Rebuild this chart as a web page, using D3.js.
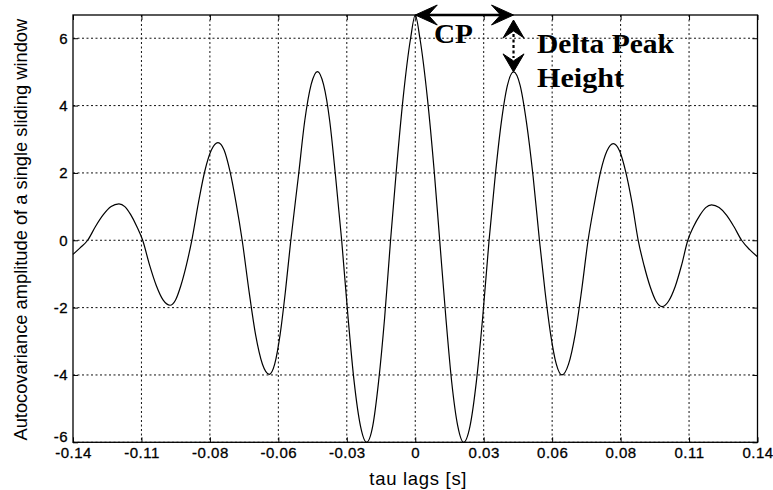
<!DOCTYPE html>
<html>
<head>
<meta charset="utf-8">
<script src="https://cdn.jsdelivr.net/npm/d3@7/dist/d3.min.js"></script>
<style>
  html, body { margin: 0; padding: 0; background: #fff; }
  svg { display: block; }
  .tick text { font-family: "Liberation Sans", Arial, Helvetica, sans-serif; font-size: 15px; fill: #000; letter-spacing: 0.5px; }
</style>
</head>
<body>
<svg id="chart" width="773" height="490"></svg>
<script>
// Autocovariance of one sliding window versus lag (seconds)
const tau = [
  -0.1400, -0.1370, -0.1340,
  -0.1308, -0.1276, -0.1244, -0.1212, -0.1188, -0.1164, -0.1139, -0.1115,
  -0.1087, -0.1059, -0.1031, -0.1003, -0.0981, -0.0959, -0.0936, -0.0914,
  -0.0887, -0.0861, -0.0834, -0.0807, -0.0782, -0.0758, -0.0733, -0.0708,
  -0.0680, -0.0653, -0.0625, -0.0597, -0.0575, -0.0553, -0.0531, -0.0509,
  -0.0478, -0.0452, -0.0426, -0.0400, -0.0375, -0.0350, -0.0326, -0.0301,
  -0.0275, -0.0250, -0.0224, -0.0199, -0.0174, -0.0150, -0.0125, -0.0101,
  -0.0077, -0.0050, -0.0019, 0.0000, 0.0019, 0.0050, 0.0077, 0.0100,
  0.0125, 0.0149, 0.0174, 0.0198, 0.0224, 0.0250, 0.0276, 0.0302,
  0.0327, 0.0352, 0.0377, 0.0402, 0.0429, 0.0455, 0.0482, 0.0508,
  0.0531, 0.0554, 0.0577, 0.0600, 0.0627, 0.0654, 0.0680, 0.0707,
  0.0733, 0.0758, 0.0784, 0.0810, 0.0836, 0.0861, 0.0887, 0.0912,
  0.0936, 0.0961, 0.0985, 0.1010, 0.1036, 0.1063, 0.1089, 0.1115,
  0.1138, 0.1164, 0.1188, 0.1212, 0.1243, 0.1274, 0.1304, 0.1335,
  0.1368, 0.1400
];
const amplitude = [
  -0.42, -0.22, 0.00,
  0.41, 0.76, 1.00, 1.08, 1.00, 0.76, 0.41, 0.00,
  -0.73, -1.35, -1.78, -1.93, -1.78, -1.35, -0.73, 0.00,
  1.11, 2.05, 2.68, 2.90, 2.68, 2.05, 1.11, 0.00,
  -1.51, -2.81, -3.68, -3.98, -3.68, -2.81, -1.51, 0.00,
  1.90, 3.55, 4.62, 5.01, 4.62, 3.55, 1.90, 0.00,
  -2.28, -4.20, -5.52, -6.00, -5.52, -4.20, -2.28, 0.00,
  2.10, 4.20, 6.00, 6.69, 6.00, 4.20, 2.10, 0.00,
  -2.28, -4.20, -5.52, -6.00, -5.52, -4.20, -2.28, 0.00,
  1.90, 3.50, 4.60, 5.00, 4.60, 3.50, 1.90, 0.00,
  -1.52, -2.80, -3.68, -4.00, -3.68, -2.80, -1.52, 0.00,
  1.10, 2.03, 2.65, 2.87, 2.65, 2.03, 1.10, 0.00,
  -0.75, -1.38, -1.81, -1.97, -1.81, -1.38, -0.75, 0.00,
  0.40, 0.74, 0.97, 1.05, 0.97, 0.74, 0.40, 0.00,
  -0.28, -0.49
];

const xTicks = [-0.14, -0.112, -0.084, -0.056, -0.028, 0, 0.028, 0.056, 0.084, 0.112, 0.14];
const xTickLabels = ["-0.14", "-0.11", "-0.08", "-0.06", "-0.03", "0", "0.03", "0.06", "0.08", "0.11", "0.14"];
const yTicks = [-6, -4, -2, 0, 2, 4, 6];
const yTickLabels = ["-6", "-4", "-2", "0", "2", "4", "6"];
const yDomain = [-6, 6.69];

const xLabel = "tau lags [s]";
const yLabel = "Autocovariance amplitude of a single sliding window";

// Annotation anchors: central peak and first side peak
const cpLag = [0, 0.0402];
const peakHeights = [6.69, 5.0];
const cpText = "CP";
const deltaText = ["Delta Peak", "Height"];

// ---- layout ----
const W = 773, H = 490;
const plot = { left: 73, right: 757.5, top: 15, bottom: 442.3 };

const svg = d3.select("#chart");

const x = d3.scaleLinear()
  .domain([xTicks[0], xTicks[xTicks.length - 1]])
  .range([plot.left, plot.right]);
const y = d3.scaleLinear()
  .domain(yDomain)
  .range([plot.bottom, plot.top]);

// dotted grid
const grid = svg.append("g")
  .attr("stroke", "#111")
  .attr("stroke-width", 1)
  .attr("stroke-dasharray", "2,2.5");
grid.selectAll("line.gx")
  .data(xTicks.slice(1, -1))
  .join("line")
  .attr("class", "gx")
  .attr("x1", d => x(d)).attr("x2", d => x(d))
  .attr("y1", plot.top).attr("y2", plot.bottom);
grid.selectAll("line.gy")
  .data(yTicks)
  .join("line")
  .attr("class", "gy")
  .attr("x1", plot.left).attr("x2", plot.right)
  .attr("y1", d => y(d)).attr("y2", d => y(d));

// axes with inward ticks
const fmtX = d => xTickLabels[xTicks.indexOf(d)];
const fmtY = d => yTickLabels[yTicks.indexOf(d)];

svg.append("g")
  .attr("transform", `translate(0,${plot.bottom})`)
  .call(d3.axisBottom(x).tickValues(xTicks).tickFormat(fmtX)
    .tickSizeInner(-5).tickSizeOuter(0).tickPadding(5.5))
  .call(g => g.select(".domain").remove());

svg.append("g")
  .attr("transform", `translate(0,${plot.top})`)
  .call(d3.axisTop(x).tickValues(xTicks).tickFormat("")
    .tickSizeInner(-5).tickSizeOuter(0))
  .call(g => g.select(".domain").remove());

svg.append("g")
  .attr("transform", `translate(${plot.left},0)`)
  .call(d3.axisLeft(y).tickValues(yTicks).tickFormat(fmtY)
    .tickSizeInner(-5).tickSizeOuter(0).tickPadding(5))
  .call(g => g.select(".domain").remove())
  // lift the bottom label so it clears the first x tick label
  .call(g => g.selectAll(".tick text").filter(d => d === yTicks[0]).attr("dy", "-0.05em"));

svg.append("g")
  .attr("transform", `translate(${plot.right},0)`)
  .call(d3.axisRight(y).tickValues(yTicks).tickFormat("")
    .tickSizeInner(-5).tickSizeOuter(0))
  .call(g => g.select(".domain").remove());

svg.selectAll(".tick line").attr("stroke", "#000").attr("stroke-width", 1);
svg.selectAll(".tick text").attr("stroke", "#000").attr("stroke-width", 0.3);

// frame
svg.append("rect")
  .attr("x", plot.left).attr("y", plot.top)
  .attr("width", plot.right - plot.left)
  .attr("height", plot.bottom - plot.top)
  .attr("fill", "none")
  .attr("stroke", "#000")
  .attr("stroke-width", 1.3);

// autocovariance curve
const line = d3.line()
  .x(d => x(d[0]))
  .y(d => y(d[1]))
  .curve(d3.curveMonotoneX);

svg.append("path")
  .datum(d3.zip(tau, amplitude))
  .attr("d", line)
  .attr("fill", "none")
  .attr("stroke", "#000")
  .attr("stroke-width", 1.2)
  .attr("stroke-linejoin", "round");

// axis titles
svg.append("text")
  .attr("x", (plot.left + plot.right) / 2 + 3)
  .attr("y", 485)
  .attr("text-anchor", "middle")
  .attr("font-family", "Liberation Sans, Arial, Helvetica, sans-serif")
  .attr("font-size", 18.5)
  .attr("letter-spacing", 0.7)
  .text(xLabel);

svg.append("text")
  .attr("transform", `translate(27,${(plot.top + plot.bottom) / 2 + 1}) rotate(-90)`)
  .attr("text-anchor", "middle")
  .attr("font-family", "Liberation Sans, Arial, Helvetica, sans-serif")
  .attr("font-size", 18.3)
  .text(yLabel);

// ---- CP / Delta Peak Height annotation ----
function arrowHead(g, tipX, tipY, angle, len, half, notch) {
  const pts = [[0, 0], [-len, -half], [-notch, 0], [-len, half]];
  g.append("path")
    .attr("d", "M" + pts.map(p => p.join(",")).join("L") + "Z")
    .attr("transform", `translate(${tipX},${tipY}) rotate(${angle})`)
    .attr("fill", "#000")
    .attr("stroke", "#000")
    .attr("stroke-width", 1)
    .attr("stroke-linejoin", "miter");
}

const ann = svg.append("g");
const ax0 = x(cpLag[0]), ax1 = x(cpLag[1]);
const ayTop = y(peakHeights[0]);
const aySide = y(peakHeights[1]);

// horizontal double arrow between the two peak lags
ann.append("line")
  .attr("x1", ax0 + 10).attr("x2", ax1 - 10)
  .attr("y1", ayTop).attr("y2", ayTop)
  .attr("stroke", "#000").attr("stroke-width", 2.6);
arrowHead(ann, ax0, ayTop, 180, 22, 10, 13);
arrowHead(ann, ax1, ayTop, 0, 22, 10, 13);

// vertical dashed double arrow between the two peak heights
const vTop = ayTop + 5;
ann.append("line")
  .attr("x1", ax1).attr("x2", ax1)
  .attr("y1", vTop + 14).attr("y2", aySide - 14)
  .attr("stroke", "#000").attr("stroke-width", 2.2)
  .attr("stroke-dasharray", "3,2.5");
arrowHead(ann, ax1, vTop, -90, 18, 10.5, 11);
arrowHead(ann, ax1, aySide, 90, 18, 10.5, 11);

const serif = "Liberation Serif, Times New Roman, Times, serif";
ann.append("text")
  .attr("x", 434).attr("y", 43)
  .attr("font-family", serif).attr("font-weight", "bold")
  .attr("font-size", 27)
  .attr("textLength", 39).attr("lengthAdjust", "spacingAndGlyphs")
  .text(cpText);
ann.append("text")
  .attr("x", 537).attr("y", 53)
  .attr("font-family", serif).attr("font-weight", "bold")
  .attr("font-size", 27)
  .attr("textLength", 137).attr("lengthAdjust", "spacingAndGlyphs")
  .text(deltaText[0]);
ann.append("text")
  .attr("x", 537).attr("y", 87)
  .attr("font-family", serif).attr("font-weight", "bold")
  .attr("font-size", 27)
  .attr("textLength", 87).attr("lengthAdjust", "spacingAndGlyphs")
  .text(deltaText[1]);
</script>
</body>
</html>
